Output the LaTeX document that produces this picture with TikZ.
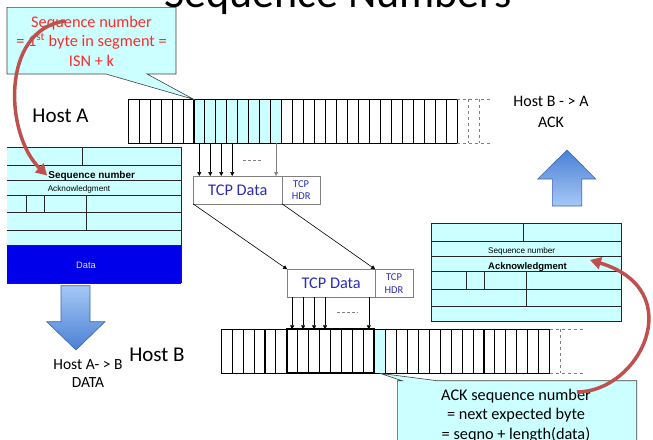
\documentclass[tikz,border=0pt]{standalone}
\usepackage{fontspec}
\setmainfont{Carlito}
\newfontfamily\arialfont{Liberation Sans}
\usetikzlibrary{positioning,arrows.meta}
\definecolor{seqcyan}{HTML}{CCFFFF}
\definecolor{datablue}{HTML}{0000EB}
\definecolor{curvered}{HTML}{C0504D}
\definecolor{notered}{HTML}{FF2B2B}
\definecolor{tcpblue}{HTML}{2B2BB8}
\definecolor{arrowdark}{HTML}{4A80D4}
\definecolor{arrowlight}{HTML}{A6C8F6}

\begin{document}
\begin{tikzpicture}[x=1pt,y=-1pt,
  cell/.style={draw,minimum width=10.97pt,minimum height=44pt,inner sep=0pt,outer sep=0pt,line width=0.6pt},
  segbox/.style={draw,line width=1.8pt},
  tcpbox/.style={draw=gray,line width=0.8pt,minimum height=28pt,inner sep=0pt,outer sep=0pt,text=tcpblue},
  feed/.style={-{Triangle[length=4pt,width=4pt]},line width=0.6pt},
  bendy/.style={curvered,line width=3.5pt,-{Triangle[length=11pt,width=12pt]}},
  note/.style={align=center,font=\fontsize{16.3}{19.5}\selectfont},
  hostlabel/.style={font=\fontsize{21}{25}\selectfont},
  hdrline/.style={line width=0.9pt,black!85},
  fatarrow/.style={draw=arrowdark!80!black,line width=0.6pt}]
\useasboundingbox (0,0) rectangle (653,439);
\clip (0,0) rectangle (653,439);

\node[font=\fontsize{44}{50}\selectfont,anchor=base] (title) at (338,7) {Sequence Numbers};

% header sent by host A
\fill[seqcyan] (7,147) rectangle (181,245);
\fill[datablue] (7,245) rectangle (181,283.3);
\foreach \y in {147,165,180,195,212.7,230,245,283.3}
  \draw[hdrline] (7,\y) -- (181,\y);
\draw[hdrline] (181,147) -- (181,283.3);
\draw[hdrline] (82.7,147) -- (82.7,165) (26.7,195) -- (26.7,212.7) (44.3,195) -- (44.3,212.7) (86,195) -- (86,230);
\node[font=\arialfont\bfseries\fontsize{10}{12}\selectfont,inner sep=1pt] (seqA) at (91.7,175.5) {Sequence number};
\node[font=\arialfont\fontsize{8.2}{10}\selectfont] (ackA) at (79,189.5) {Acknowledgment};
\node[font=\arialfont\fontsize{9.3}{11}\selectfont,text=blue!12!white] (dataA) at (86,265) {Data};

% header sent back by host B
\fill[seqcyan] (431,223.3) rectangle (621.7,321.7);
\foreach \y in {223.3,241.7,256.7,271.7,289,306.7,321.7}
  \draw[hdrline] (431,\y) -- (621.7,\y);
\draw[hdrline] (431,223.3) -- (431,321.7) (621.7,223.3) -- (621.7,321.7);
\draw[hdrline] (523.3,223.3) -- (523.3,241.7) (466.7,271.7) -- (466.7,289) (484.3,271.7) -- (484.3,289) (526.7,271.7) -- (526.7,306.7);
\node[font=\arialfont\fontsize{8.2}{10}\selectfont] (seqB) at (521.7,251.5) {Sequence number};
\node[font=\arialfont\bfseries\fontsize{9.5}{11}\selectfont] (ackB) at (527.5,267) {Acknowledgment};

% big arrows
\shadedraw[fatarrow,top color=arrowlight,bottom color=arrowdark] (61,285.7) -- (90,285.7) -- (90,321.7) -- (105,321.7) -- (76,350) -- (46.7,321.7) -- (61,321.7) -- cycle;
\shadedraw[fatarrow,top color=arrowdark,bottom color=arrowlight] (552.3,206) -- (552.3,179) -- (537.7,179) -- (567,150) -- (595.7,179) -- (581.7,179) -- (581.7,206) -- cycle;
\node[align=center,font=\fontsize{15.5}{18}\selectfont] (dirAB) at (88,374) {Host A- > B\\DATA};
\node[align=center,font=\fontsize{16}{21}\selectfont] (dirBA) at (551,111.5) {Host B - > A\\ACK};

\node[hostlabel] (hostA) at (60.5,116) {Host A};
\node[hostlabel] (hostB) at (157,355) {Host B};

% byte stream of host A
\fill[seqcyan] (193.8,99.4) rectangle (281.6,143.4);
\foreach \i in {1,...,30}
  \node[cell] (a\i) at ({128+(\i-0.5)*10.97},121.4) {};
\draw[segbox] (a7.north west) rectangle (a14.south east);
\draw[gray,dashed,line width=0.6pt] (a30.north east) -- ++(34,0) (a30.south east) -- ++(34,0)
  ([xshift=11pt]a30.north east) -- ([xshift=11pt]a30.south east)
  ([xshift=22pt]a30.north east) -- ([xshift=22pt]a30.south east);

% byte stream of host B
\fill[seqcyan] (374.3,329.3) rectangle (385.25,373.3);
\foreach \i in {1,...,30}
  \node[cell] (b\i) at ({221+(\i-0.5)*10.95},351.3) {};
\draw[segbox] (b7.north west) rectangle (b14.south east);
\draw[gray,dashed,line width=0.6pt] (b30.north east) -- ++(33,0) (b30.south east) -- ++(33,0)
  ([xshift=11pt]b30.north east) -- ([xshift=11pt]b30.south east);

% segments
\node[tcpbox,minimum width=89pt,font=\fontsize{16.3}{19}\selectfont] (tcpA) at (237.8,190) {TCP Data};
\node[tcpbox,minimum width=37.7pt,right=0pt of tcpA,align=center,font=\fontsize{10.5}{12.6}\selectfont] (hdrA) {TCP\\HDR};
\node[tcpbox,minimum width=88pt,font=\fontsize{16.3}{19}\selectfont] (tcpB) at (331.2,283.3) {TCP Data};
\node[tcpbox,minimum width=37.7pt,right=0pt of tcpB,align=center,font=\fontsize{10.5}{12.6}\selectfont] (hdrB) {TCP\\HDR};

\foreach \i in {7,...,10}
  \draw[feed] (a\i.south) -- (a\i.south |- tcpA.north);
\draw[feed,gray] (a14.south) -- (a14.south |- tcpA.north);
\draw[gray,densely dashed,line width=0.5pt] (243,160) -- (263,160);
\draw[feed] (tcpA.south west) -- (tcpB.north west);
\draw[feed] (tcpA.south east) -- (tcpB.north east);
\foreach \i in {7,...,10,14}
  \draw[feed] (b\i.north |- tcpB.south) -- (b\i.north);
\draw[gray,densely dashed,line width=0.5pt] (336.7,312.3) -- (357.7,312.3);

% callouts
\filldraw[fill=seqcyan,draw=black!75,line width=0.6pt] (7,7.3) -- (176,7.3) -- (176,74) -- (147,74) -- (a7.north west) -- (106,74) -- (7,74) -- cycle;
\node[note,text=notered] (seqnote) at (91.5,41) {Sequence number\\= 1\textsuperscript{st} byte in segment =\\ISN + k};
\filldraw[fill=seqcyan,draw=black!75,line width=0.6pt] (397.3,450) -- (397.3,380.7) -- (402,380.7) -- (b15.south) -- (437,380.7) -- (636.7,380.7) -- (636.7,450);
\node[note] (acknote) at (516,415.5) {ACK sequence number\\= next expected byte\\= seqno + length(data)};

\coordinate (seqfoot) at (65,21);
\coordinate (ackfoot) at (577,392);
\coordinate (acktip) at (590,260);
\draw[bendy] (seqfoot) .. controls (0,30) and (5,135) .. (seqA.west);
\draw[bendy] (ackfoot) .. controls (640,392) and (690,290) .. (acktip);
\end{tikzpicture}
\end{document}
